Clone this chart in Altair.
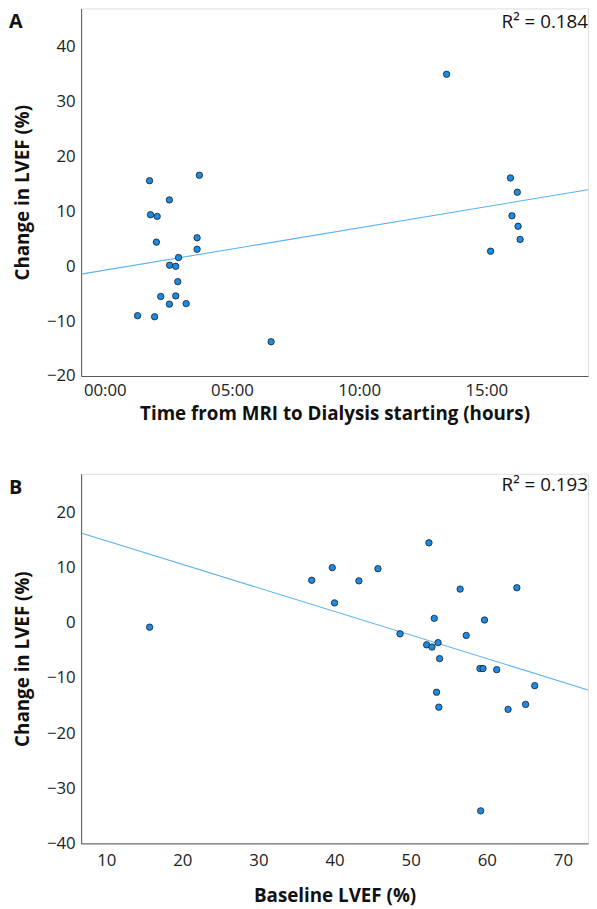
import altair as alt
import pandas as pd

# Panel A: time from MRI to dialysis (hours) vs change in LVEF (%)
hours_a = [1.29, 1.76, 1.80, 2.06, 2.03, 1.96, 2.20, 2.54, 2.55, 2.79, 2.90, 2.87, 2.79,
           2.54, 3.20, 3.63, 3.63, 3.72, 6.54, 13.44, 15.95, 16.22, 16.01, 16.25, 16.33, 15.17]
change_a = [-9.0, 15.6, 9.4, 9.1, 4.4, -9.2, -5.5, 12.1, 0.2, 0.0, 1.6, -2.8, -5.4,
            -6.9, -6.8, 5.2, 3.1, 16.6, -13.75, 35.0, 16.1, 13.5, 9.2, 7.3, 4.9, 2.75]

# Panel B: baseline LVEF (%) vs change in LVEF (%)
baseline_b = [15.7, 37.0, 39.7, 40.0, 43.2, 45.7, 48.6, 52.4, 52.1, 52.8, 53.6, 53.1, 53.8,
              53.4, 53.7, 56.5, 57.3, 59.7, 59.1, 59.5, 61.3, 59.2, 62.8, 65.1, 66.3, 63.95]
change_b = [-0.8, 7.7, 10.0, 3.6, 7.6, 9.8, -2.0, 14.5, -4.0, -4.4, -3.6, 0.8, -6.5,
            -12.6, -15.3, 6.1, -2.3, 0.5, -8.3, -8.3, -8.5, -34.1, -15.7, -14.8, -11.4, 6.35]

r2_labels = ["R² = 0.184", "R² = 0.193"]
panel_letters = ["A", "B"]

FONT = "Open Sans"
W = 513
POINT_FILL = "#1b8ce6"
LINE_COLOR = "#5ab2f0"

df_a = pd.DataFrame({"x": hours_a, "y": change_a})
df_b = pd.DataFrame({"x": baseline_b, "y": change_b})


def panel(df, xdom, ydom, xticks, yticks, xtitle, label_expr, r2, letter,
          height, label_pad, title_pad, r2_y):
    xs = alt.Scale(domain=xdom, nice=False, zero=False)
    ys = alt.Scale(domain=ydom, nice=False, zero=False)
    common = dict(grid=False, ticks=False, labelFontSize=17, titleFontSize=19,
                  titleFontWeight="bold", domainColor="#555555", labelColor="#222222",
                  titleColor="#111111", labelFont=FONT, titleFont=FONT)
    xaxis = alt.Axis(values=xticks, title=xtitle, labelExpr=label_expr,
                     labelPadding=label_pad, titlePadding=title_pad, **common)
    yaxis = alt.Axis(values=yticks, title="Change in LVEF (%)",
                     labelPadding=6, titlePadding=14, **common)
    base = alt.Chart(df)
    pts = base.mark_point(filled=True, fill=POINT_FILL, stroke="#1a1a1a",
                          strokeWidth=0.8, size=42, opacity=1).encode(
        x=alt.X("x:Q", scale=xs, axis=xaxis),
        y=alt.Y("y:Q", scale=ys, axis=yaxis),
    )
    line = base.transform_regression("x", "y", extent=xdom).mark_line(
        color=LINE_COLOR, strokeWidth=1.1, clip=True).encode(
        x=alt.X("x:Q", scale=xs), y=alt.Y("y:Q", scale=ys))
    r2_text = alt.Chart(pd.DataFrame({"t": [r2]})).mark_text(
        align="right", baseline="middle", fontSize=19, font=FONT, color="#111111").encode(
        x=alt.value(W), y=alt.value(r2_y), text="t:N")
    letter_text = alt.Chart(pd.DataFrame({"t": [letter]})).mark_text(
        align="left", baseline="top", fontSize=20, fontWeight="bold", font=FONT,
        color="#111111").encode(x=alt.value(-73), y=alt.value(4), text="t:N")
    return alt.layer(line, pts, r2_text, letter_text).properties(width=W, height=height)


chart_a = panel(df_a, [-0.93, 19.0], [-20, 47], [0, 5, 10, 15], list(range(-20, 41, 10)),
                "Time from MRI to Dialysis starting (hours)",
                "(datum.value < 10 ? '0' : '') + datum.value + ':00'",
                r2_labels[0], panel_letters[0], 372, 7, 6, 14)
chart_b = panel(df_b, [6.7, 73.3], [-40, 27], list(range(10, 71, 10)), list(range(-40, 21, 10)),
                "Baseline LVEF (%)", "datum.label", r2_labels[1], panel_letters[1],
                374, 9, 19, 11)

chart = alt.vconcat(chart_a, chart_b, spacing=49).properties(
    padding={"left": 0, "top": -6, "right": 0, "bottom": 0}
).configure_view(stroke=None).configure(background="white")

chart.save("out.html", embed_options={"renderer": "svg", "actions": False})
